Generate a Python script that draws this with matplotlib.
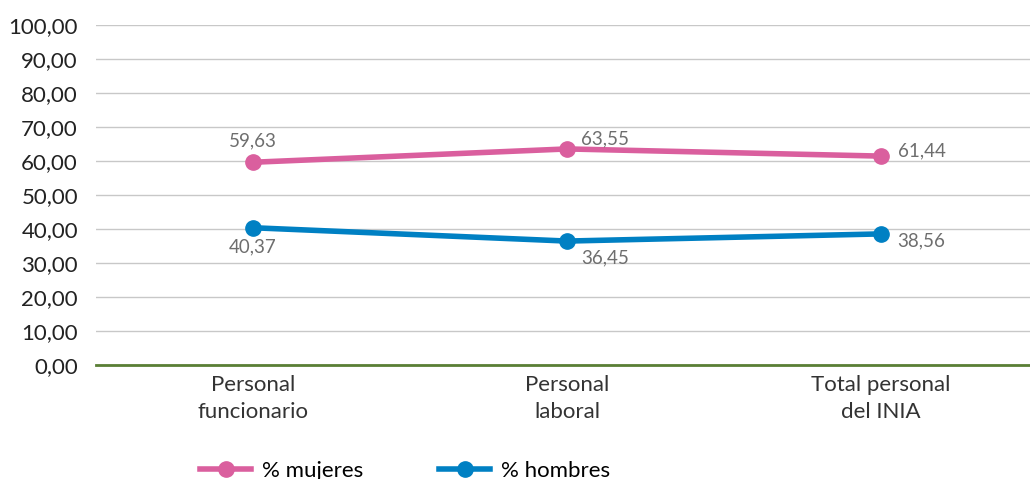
import matplotlib.pyplot as plt
from matplotlib.ticker import FuncFormatter

# Data
categories = ["Personal\nfuncionario", "Personal\nlaboral", "Total personal\ndel INIA"]
mujeres = [59.63, 63.55, 61.44]
hombres = [40.37, 36.45, 38.56]
yticks = [0, 10, 20, 30, 40, 50, 60, 70, 80, 90, 100]

pink = "#DA5F9E"
blue = "#0080C3"

plt.rcParams["font.family"] = ["Lato", "DejaVu Sans"]

fig = plt.figure(figsize=(10.3, 4.79), dpi=100)
ax = fig.add_axes([96 / 1030, 114 / 479, 942 / 1030, 340 / 479])

x = list(range(len(categories)))
ax.plot(x, mujeres, color=pink, lw=4, marker="o", ms=11, label="% mujeres", zorder=3)
ax.plot(x, hombres, color=blue, lw=4, marker="o", ms=11, label="% hombres", zorder=3)

def fmt(v):
    return f"{v:.2f}".replace(".", ",")

# Data labels
lbl = dict(color="#6e6e6e", fontsize=13.5, fontstretch="condensed")
ax.annotate(fmt(mujeres[0]), (0, mujeres[0]), xytext=(0, 9), textcoords="offset points", ha="center", va="bottom", **lbl)
ax.annotate(fmt(hombres[0]), (0, hombres[0]), xytext=(0, -8), textcoords="offset points", ha="center", va="top", **lbl)
ax.annotate(fmt(mujeres[1]), (1, mujeres[1]), xytext=(10, 1), textcoords="offset points", ha="left", va="bottom", **lbl)
ax.annotate(fmt(hombres[1]), (1, hombres[1]), xytext=(10, -6), textcoords="offset points", ha="left", va="top", **lbl)
ax.annotate(fmt(mujeres[2]), (2, mujeres[2]), xytext=(12, 4), textcoords="offset points", ha="left", va="center", **lbl)
ax.annotate(fmt(hombres[2]), (2, hombres[2]), xytext=(12, -5), textcoords="offset points", ha="left", va="center", **lbl)

ax.set_xlim(-0.5, 2.5)
ax.set_ylim(0, 100)
ax.set_yticks(yticks)
ax.yaxis.set_major_formatter(FuncFormatter(lambda v, p: fmt(v)))
ax.set_xticks(x)
ax.set_xticklabels(categories, fontsize=16, color="#333333", linespacing=1.45)
ax.tick_params(axis="y", labelsize=16, colors="#222222", length=0, pad=13)
ax.tick_params(axis="x", length=0, pad=7)

ax.grid(axis="y", color="#c8c8c8", lw=1)
ax.set_axisbelow(True)
for s in ["top", "right", "left"]:
    ax.spines[s].set_visible(False)
ax.spines["bottom"].set_color("#5A7F35")
ax.spines["bottom"].set_linewidth(2)
ax.spines["bottom"].set_zorder(4)

ax.legend(loc="lower left", bbox_to_anchor=(180 / 1030, -0.045), bbox_transform=fig.transFigure,
          ncol=2, frameon=False, fontsize=16, handlelength=2.3, columnspacing=3.4, handletextpad=0.5)

fig.savefig("out.png", dpi=100)
